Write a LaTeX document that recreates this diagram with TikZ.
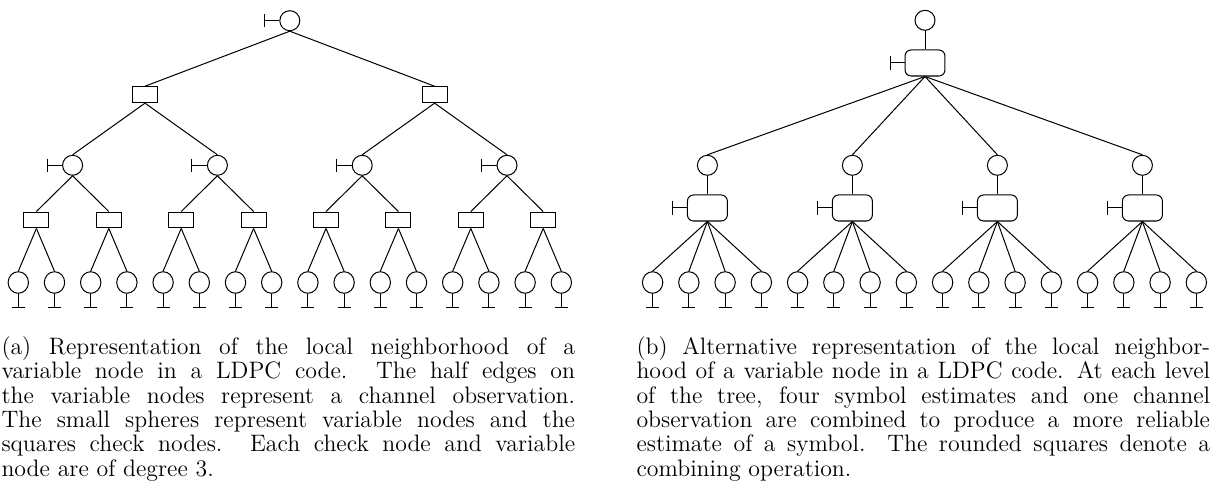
\documentclass[tikz,border=0pt]{standalone}
\usetikzlibrary{shapes.geometric}
\begin{document}
\begin{tikzpicture}[x=0.496pt,y=-0.496pt,line width=0.5pt,
  var/.style={circle,draw,minimum size=9.92pt,inner sep=0pt},
  leaf/.style={ellipse,draw,minimum width=10.1pt,minimum height=10.7pt,inner sep=0pt},
  chk/.style={rectangle,draw,minimum width=12.4pt,minimum height=7.9pt,inner sep=0pt},
  comb/.style={rectangle,draw,rounded corners=3pt,minimum width=19.8pt,minimum height=12.9pt,inner sep=0pt},
  capbox/.style={anchor=north west,inner sep=0pt,text width=284.5pt,align=justify,
    font=\fontsize{11.8}{12.1}\selectfont}
]
\useasboundingbox (0,0) rectangle (1210,495);

% ---- (a) variable/check node tree ----
\node[var] (r) at (289.8,20.7) {};
\foreach \m in {0,1} \node[chk] (c\m) at ({145+289.6*\m},94.7) {};
\foreach \k in {0,...,3} \node[var] (v\k) at ({72.6+144.8*\k},165.3) {};
\foreach \j in {0,...,7} \node[chk] (d\j) at ({36.4+72.4*\j},220) {};
\foreach \i in {0,...,15} \node[leaf] (l\i) at ({18.3+36.2*\i},282.5) {};

\foreach \m in {0,1} \draw (r.south) -- (c\m.north);
\foreach \k in {0,...,3} {\pgfmathtruncatemacro\p{\k/2} \draw (c\p.south) -- (v\k.north);}
\foreach \j in {0,...,7} {\pgfmathtruncatemacro\p{\j/2} \draw (v\p.south) -- (d\j.north);}
\foreach \i in {0,...,15} {\pgfmathtruncatemacro\p{\i/2} \draw (d\p.south) -- (l\i.north);}

% channel observations (half edges)
\foreach \n in {r,v0,v1,v2,v3} \draw (\n.west) -- ++(-15,0) ++(0,-6.5) -- ++(0,13);
\foreach \i in {0,...,15} \draw (l\i.south) -- ++(0,13.5) ++(-6.5,0) -- ++(13,0);

% ---- (b) combining tree ----
\node[var] (s) at (925,20.3) {};
\node[comb] (t) at (925,63) {};
\draw (s.south) -- (t.north);
\foreach \k in {0,...,3} {
  \node[var] (w\k) at ({707.4+145*\k},165.3) {};
  \node[comb] (u\k) at ({707.4+145*\k},208) {};
  \draw (t.south) -- (w\k.north);
  \draw (w\k.south) -- (u\k.north);
}
\foreach \i in {0,...,15} {
  \pgfmathtruncatemacro\p{\i/4}
  \node[leaf] (m\i) at ({652.6+36.25*\i},282.5) {};
  \draw (u\p.south) -- (m\i.north);
  \draw (m\i.south) -- ++(0,13.5) ++(-6.5,0) -- ++(13,0);
}
\foreach \n in {t,u0,u1,u2,u3} \draw (\n.west) -- ++(-14,0) ++(0,-7) -- ++(0,14);

% ---- captions ----
\node[capbox] (capa) at (1,336) {(a) Representation of the local neighborhood of a\linebreak
variable node in a LDPC code.  The half edges on\linebreak
the variable nodes represent a channel observation.\linebreak
The small spheres represent variable nodes and the\linebreak
squares check nodes.  Each check node and variable\linebreak
node are of degree 3.};
\node[capbox] (capb) at (636,336) {(b) Alternative representation of the local neighbor-\linebreak
hood of a variable node in a LDPC code.  At each level\linebreak
of the tree, four symbol estimates and one channel\linebreak
observation are combined to produce a more reliable\linebreak
estimate of a symbol.  The rounded squares denote a\linebreak
combining operation.};
\end{tikzpicture}
\end{document}
